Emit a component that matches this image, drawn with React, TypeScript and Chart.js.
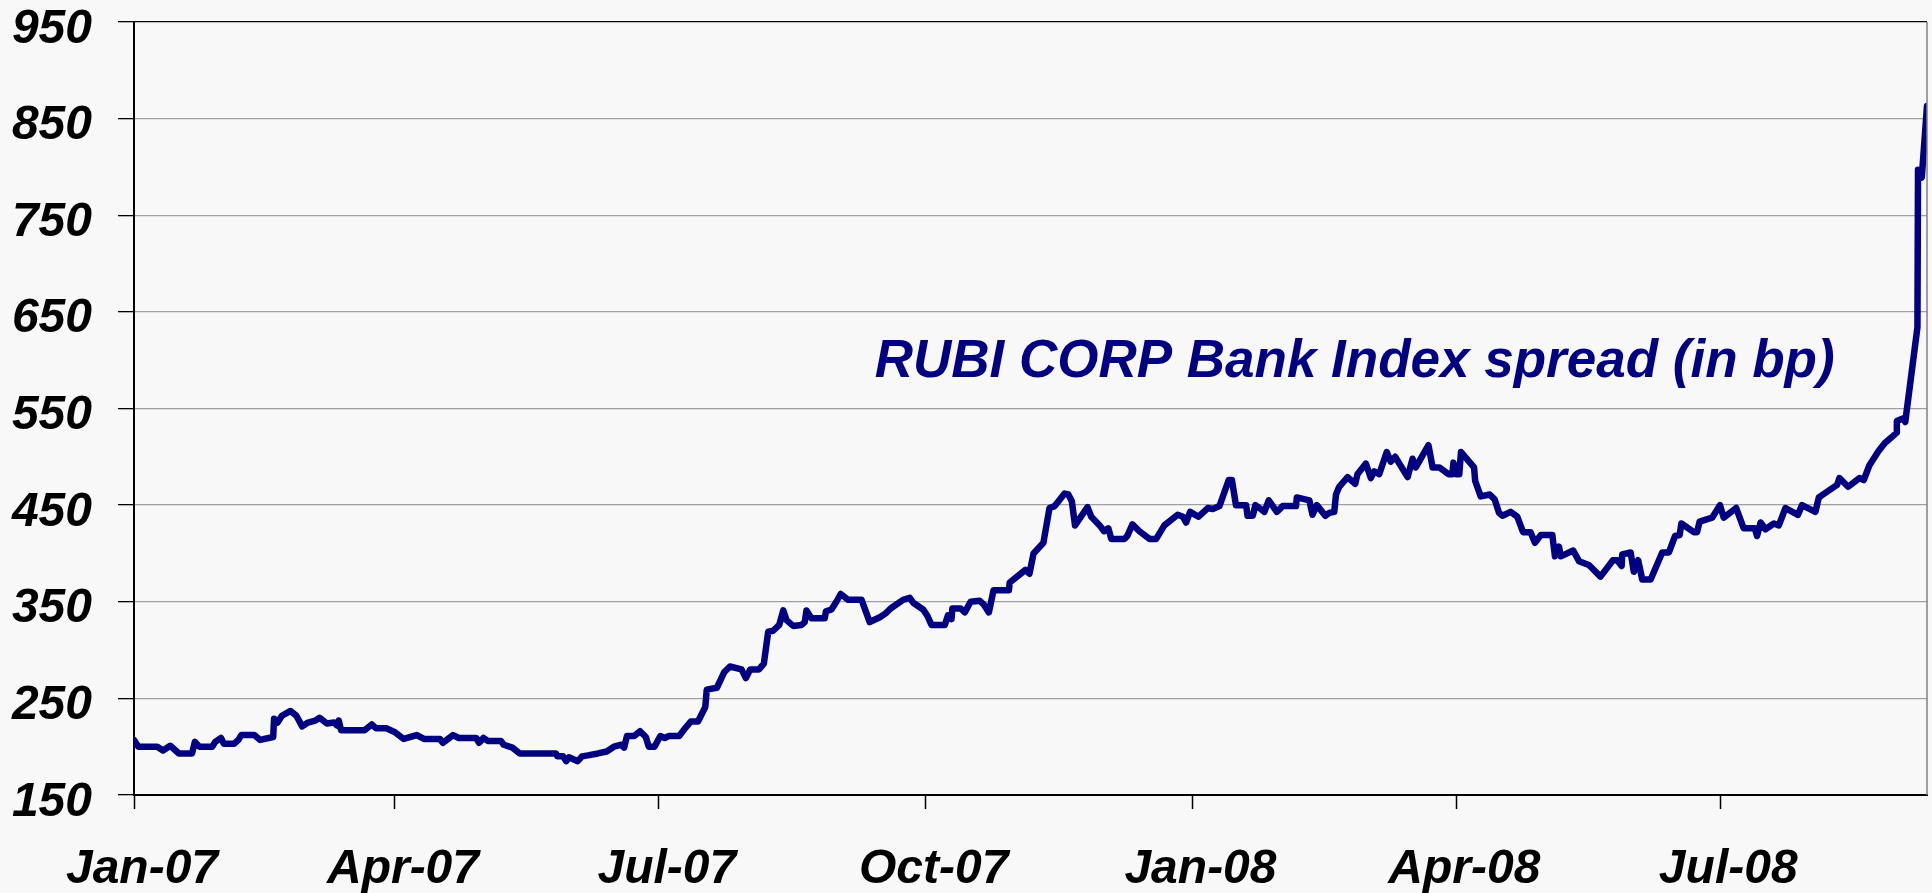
import React, { useEffect, useRef } from "react";
import { Chart, registerables } from "chart.js";

Chart.register(...registerables);

// Days counted from 1 Jan 2007
const days = [
  0, 1.5, 8, 10, 12.5, 15.5, 20, 21, 22.5, 27, 28, 30, 31, 34.5, 36, 37, 41.5, 43.5, 48, 48.3,
  49.5, 51, 54, 56, 58, 60, 62.5, 64, 66.5, 69, 70, 70.6, 71.4, 79.5, 82, 83.5, 87, 90, 93, 97.5,
  100, 105.5, 106.5, 110, 112, 118, 119, 120.5, 122, 126.5, 127.5, 130.5, 133, 145.5, 146, 148, 149, 150, 153, 154.5,
  156.5, 160, 163, 165.5, 168, 169, 170, 172.5, 174.5, 176.5, 177.5, 179.5, 181.5, 183, 184.5, 188, 190, 192, 194.5, 197,
  197.5, 201, 203.5, 205.5, 209.5, 211, 212.5, 215.5, 217.2, 218.7, 220.4, 222.5, 223.9, 225, 227.3, 230.2, 231.3, 231.9, 233.6, 238.2,
  238.6, 240.5, 242.2, 243.7, 246.3, 250.9, 253.7, 257.2, 259.2, 260.9, 265.2, 267.5, 268.7, 272.1, 273.5, 275, 279.6, 280.7, 281.9, 282.2,
  285.1, 286.5, 288.5, 291.6, 293.1, 294.8, 296.4, 301.7, 302, 307.4, 308.8, 310.2, 313.6, 315.7, 317.5, 320.9, 322.2, 323.4, 324.5, 328.8,
  330.1, 333, 334.5, 336, 337, 341.6, 342.5, 344.3, 346.7, 350.2, 352.5, 355.3, 359.9, 361.7, 362.8, 364.2, 367.1, 370.3, 372, 374.3,
  377.5, 378.6, 380, 383.5, 384, 385.8, 386.7, 388.1, 389.8, 391.3, 394.1, 396.1, 400.7, 401, 405.3, 406.4, 407.9, 410.8, 412.2, 413.9,
  414.5, 415.6, 418.5, 421.1, 421.9, 424.8, 426.5, 427.7, 429.4, 432, 433.4, 434.9, 439.2, 440.9, 442, 446.4, 447.8, 450.1, 453.3, 454.6,
  455, 455.8, 457, 457.6, 460.4, 462.1, 462.5, 464.4, 467.5, 469.2, 470.7, 471.9, 474.7, 477, 479, 481.6, 483.1, 485.1, 489.1, 490,
  491.4, 492, 496.3, 498.3, 501.7, 505.7, 510, 511.5, 513, 513.2, 516.1, 517.2, 518.7, 520.1, 523, 527, 529.3, 531.4, 533, 533.6,
  537.9, 539, 539.9, 544.2, 546.9, 548.2, 552.5, 555.1, 558.9, 559.7, 560.9, 562.6, 565.5, 567.2, 569.5, 573.8, 575.2, 579.8, 581, 587.3,
  588.1, 591.1, 595, 596.5, 598.4, 601.6, 603.7, 607.9, 607.9, 610.2, 610.8, 615, 615.2, 616.5, 618.3,
];

// RUBI CORP Bank Index spread, basis points
const spread = [
  207, 200, 200, 196, 201, 193, 193, 205, 200, 200, 205, 209, 203, 203, 207, 212, 212, 207, 210, 229,
  225, 232, 237, 232, 221, 225, 227, 230, 224, 225, 222, 227, 217, 217, 223, 219, 219, 215, 208, 212,
  208, 208, 204, 212, 209, 209, 204, 209, 206, 206, 202, 199, 193, 193, 190, 190, 185, 189, 185, 190,
  191, 193, 195, 200, 202, 199, 211, 211, 216, 210, 200, 200, 211, 209, 211, 211, 219, 226, 226, 241,
  259, 261, 277, 283, 280, 271, 280, 280, 286, 319, 320, 326, 341, 331, 325, 326, 329, 341, 333, 333,
  340, 342, 350, 358, 352, 352, 329, 334, 338, 343, 352, 354, 349, 342, 336, 326, 326, 336, 332, 343,
  343, 339, 350, 351, 347, 339, 362, 362, 370, 383, 379, 400, 411, 447, 449, 462, 461, 454, 429, 448,
  438, 429, 423, 426, 415, 415, 418, 430, 423, 415, 415, 429, 440, 438, 432, 443, 438, 447, 446, 449,
  476, 476, 450, 450, 439, 439, 450, 447, 443, 455, 443, 449, 449, 458, 455, 440, 450, 439, 442, 443,
  461, 469, 479, 472, 482, 493, 478, 485, 482, 505, 495, 500, 479, 498, 489, 512, 489, 489, 482, 482,
  494, 482, 482, 505, 495, 489, 475, 459, 461, 456, 442, 439, 443, 438, 422, 422, 411, 419, 419, 397,
  407, 397, 403, 392, 388, 376, 393, 393, 387, 399, 401, 381, 393, 373, 373, 401, 401, 418, 419, 431,
  422, 422, 433, 437, 450, 437, 447, 426, 426, 418, 432, 425, 431, 429, 447, 440, 450, 443, 458, 471,
  478, 469, 478, 476, 491, 506, 514, 525, 537, 540, 536, 634, 797, 789, 863,
];

const tickDays = [0, 90, 181, 273, 365, 456, 547];
const tickLabels = ["Jan-07", "Apr-07", "Jul-07", "Oct-07", "Jan-08", "Apr-08", "Jul-08"];
const yTicks = [150, 250, 350, 450, 550, 650, 750, 850, 950];

const seriesLabel = "RUBI CORP Bank Index spread (in bp)";
// where the label sits, in data units (day, bp)
const labelAnchor = { day: 255.4, bp: 582.8 };

const FONT = "'Liberation Sans', Arial, sans-serif";
const NAVY = "#000080";

export default function App() {
  const ref = useRef<HTMLCanvasElement | null>(null);

  useEffect(() => {
    document.body.style.margin = "0";
    const canvas = ref.current;
    if (!canvas) return;

    const drawPlugin = {
      id: "decor",
      beforeDraw(chart: any) {
        const c = chart.ctx;
        c.save();
        c.fillStyle = "#f8f8f8";
        c.fillRect(0, 0, chart.width, chart.height);
        c.restore();
      },
      afterDraw(chart: any) {
        const c = chart.ctx;
        const a = chart.chartArea;
        const xs = chart.scales.x;
        const ys = chart.scales.y;
        c.save();
        // right frame
        c.strokeStyle = "#808080";
        c.lineWidth = 1.5;
        c.beginPath();
        c.moveTo(a.right, a.top);
        c.lineTo(a.right, a.bottom);
        c.stroke();

        // axis labels
        c.fillStyle = "#000";
        c.font = `italic bold 48px ${FONT}`;
        c.textBaseline = "alphabetic";
        c.textAlign = "right";
        yTicks.forEach((v) => {
          c.fillText(String(v), a.left - 42, ys.getPixelForValue(v) + 20.5);
        });
        c.textAlign = "center";
        tickDays.forEach((d, i) => {
          c.fillText(tickLabels[i], xs.getPixelForValue(d) + 8, a.bottom + 88);
        });

        // series annotation
        c.fillStyle = NAVY;
        c.font = `italic bold 53px ${FONT}`;
        c.textAlign = "left";
        c.fillText(seriesLabel, xs.getPixelForValue(labelAnchor.day), ys.getPixelForValue(labelAnchor.bp));
        c.restore();
      },
    };

    const chart = new Chart(canvas, {
      type: "line",
      data: {
        datasets: [
          {
            label: seriesLabel,
            data: days.map((d, i) => ({ x: d, y: spread[i] })),
            borderColor: NAVY,
            borderWidth: 6.5,
            pointRadius: 0,
            tension: 0,
            borderJoinStyle: "round",
            borderCapStyle: "round",
            fill: false,
          },
        ],
      },
      options: {
        responsive: false,
        animation: false,
        layout: { padding: { top: 22, right: 5, left: 0, bottom: 0 } },
        plugins: { legend: { display: false }, tooltip: { enabled: false } },
        scales: {
          x: {
            type: "linear",
            min: 0,
            max: 618.3,
            afterBuildTicks(scale: any) {
              scale.ticks = tickDays.map((v) => ({ value: v }));
            },
            afterFit(scale: any) {
              scale.height = 98;
            },
            ticks: { display: false, autoSkip: false, maxRotation: 0 },
            grid: { drawOnChartArea: false, tickLength: 14, tickColor: "#000", tickWidth: 1.5 },
            border: { display: true, color: "#000", width: 2 },
          },
          y: {
            min: 150,
            max: 950,
            afterBuildTicks(scale: any) {
              scale.ticks = yTicks.map((v) => ({ value: v }));
            },
            afterFit(scale: any) {
              scale.width = 134;
            },
            ticks: { display: false },
            grid: {
              color: (ctx: any) => (ctx.tick && ctx.tick.value === 950 ? "#000" : "#a0a0a0"),
              lineWidth: 1.3,
              tickLength: 16,
              tickColor: "#000",
            },
            border: { display: true, color: "#000", width: 2 },
          },
        },
      },
      plugins: [drawPlugin],
    } as any);

    return () => chart.destroy();
  }, []);

  return (
    <div style={{ width: 1932, height: 893 }}>
      <canvas ref={ref} width={1932} height={893} style={{ display: "block" }} />
    </div>
  );
}
